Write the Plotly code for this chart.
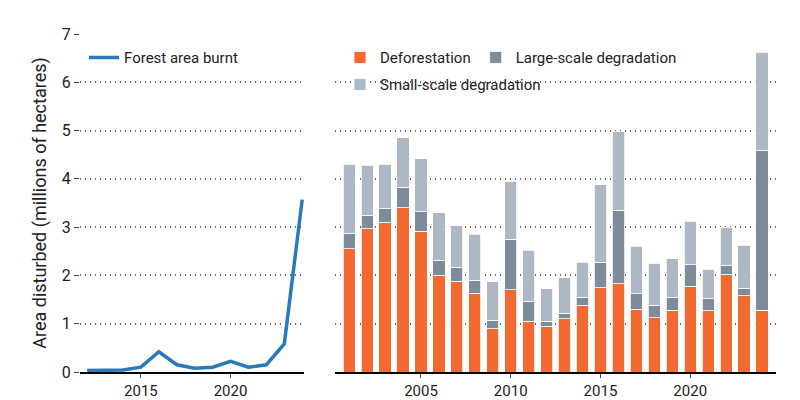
import plotly.graph_objects as go

burn_years = list(range(2012, 2025))
burnt = [0.03, 0.04, 0.04, 0.1, 0.42, 0.15, 0.08, 0.1, 0.22, 0.1, 0.15, 0.58, 3.57]

bar_years = list(range(2001, 2025))
deforestation = [2.55, 2.97, 3.1, 3.4, 2.92, 2.0, 1.88, 1.63, 0.9, 1.7, 1.05, 0.95,
                 1.1, 1.38, 1.75, 1.83, 1.3, 1.12, 1.28, 1.78, 1.27, 2.02, 1.58, 1.28]
def_plus_large = [2.87, 3.25, 3.38, 3.83, 3.32, 2.3, 2.17, 1.9, 1.07, 2.75, 1.45, 1.05,
                  1.22, 1.55, 2.27, 3.35, 1.62, 1.38, 1.55, 2.22, 1.52, 2.2, 1.72, 4.58]
totals = [4.3, 4.28, 4.3, 4.85, 4.42, 3.3, 3.03, 2.85, 1.87, 3.95, 2.52, 1.72,
          1.95, 2.27, 3.88, 4.98, 2.6, 2.25, 2.35, 3.12, 2.13, 3.0, 2.63, 6.62]
large_scale = [round(b - a, 2) for a, b in zip(deforestation, def_plus_large)]
small_scale = [round(t - b, 2) for b, t in zip(def_plus_large, totals)]

FONT = "Roboto"
fig = go.Figure()

fig.add_trace(go.Scatter(x=burn_years, y=burnt, mode="lines", name="Forest area burnt",
                         line=dict(color="#2A7AB9", width=3.5), xaxis="x", yaxis="y",
                         legend="legend", showlegend=True))

for name, vals, col, lg in [("Deforestation", deforestation, "#F26A30", "legend2"),
                            ("Large-scale degradation", large_scale, "#7E8B9A", "legend2"),
                            ("Small-scale degradation", small_scale, "#AEB8C4", "legend3")]:
    fig.add_trace(go.Bar(x=bar_years, y=vals, name=name, marker_color=col,
                         marker_line=dict(color="white", width=0.8), width=0.68,
                         xaxis="x2", yaxis="y2", legend=lg, showlegend=True))

grid = dict(showgrid=True, gridcolor="#666", griddash="1px,4px", gridwidth=1.5,
            range=[0, 7], dtick=1, zeroline=False)
fig.update_layout(
    width=800, height=400, barmode="stack", plot_bgcolor="white", paper_bgcolor="white",
    margin=dict(l=0, r=0, t=26, b=36, autoexpand=False),
    font=dict(family=FONT, size=15, color="#222"),
    xaxis=dict(domain=[0.09, 0.37], range=[2011.6, 2024.1], tickvals=[2015, 2020],
               showline=True, linecolor="black", linewidth=2, ticks="outside",
               ticklen=4, tickcolor="#444", showgrid=False),
    yaxis=dict(**grid, title=dict(text="Area disturbed (millions of hectares)", standoff=10),
               ticks="outside", ticklen=5, tickcolor="#444", tickfont=dict(size=16)),
    xaxis2=dict(domain=[0.409, 0.96], range=[2000.22, 2024.78], tickvals=[2005, 2010, 2015, 2020],
                showline=True, linecolor="black", linewidth=2, ticks="outside",
                ticklen=4, tickcolor="#444", showgrid=False),
    yaxis2=dict(**grid, anchor="x2", showticklabels=False),
    legend=dict(x=0.095, y=0.93, xanchor="left", yanchor="middle", bgcolor="rgba(0,0,0,0)",
                font=dict(size=15)),
    legend2=dict(x=0.415, y=0.93, xanchor="left", yanchor="middle", orientation="h",
                 traceorder="normal", bgcolor="rgba(0,0,0,0)", font=dict(size=15)),
    legend3=dict(x=0.415, y=0.85, xanchor="left", yanchor="middle",
                 bgcolor="rgba(0,0,0,0)", font=dict(size=15)),
)
fig.write_html("out.html")
